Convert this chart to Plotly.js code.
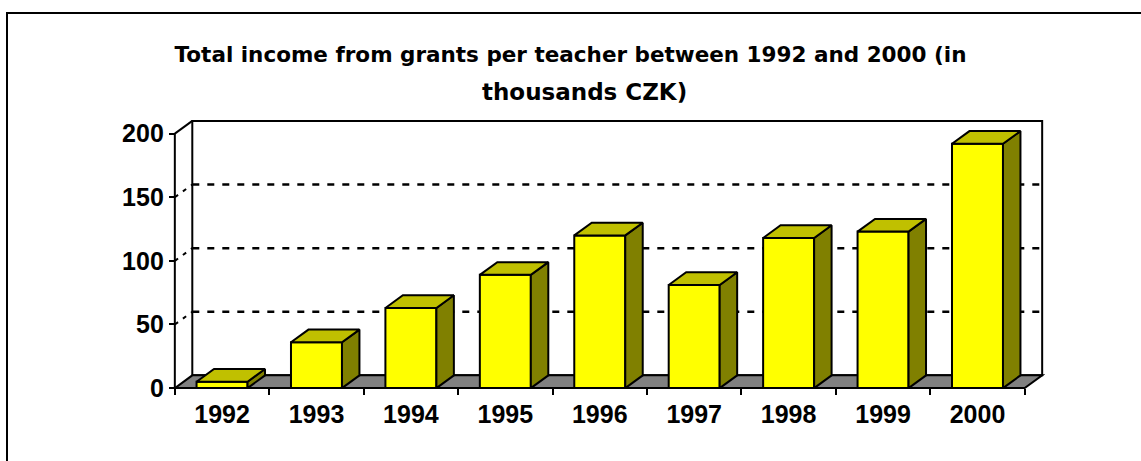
<!DOCTYPE html>
<html>
<head>
<meta charset="utf-8">
<script src="https://cdn.plot.ly/plotly-3.0.1.min.js"></script>
<style>
  html, body { margin: 0; padding: 0; background: #ffffff; }
  #chart { width: 1141px; height: 461px; }
</style>
</head>
<body>
<div id="chart"></div>
<script>
// ---- data ----
const categories = ['1992', '1993', '1994', '1995', '1996', '1997', '1998', '1999', '2000'];
const values = [5, 36, 63, 89, 120, 81, 118, 123, 192];
const yTickValues = [0, 50, 100, 150, 200];
const titleLine1 = 'Total income from grants per teacher between 1992 and 2000 (in';
const titleLine2 = 'thousands CZK)';

// ---- geometry / style ----
const W = 1141, H = 461;
const M = { l: 172, r: 96, t: 119, b: 71 };
const PW = W - M.l - M.r, PH = H - M.t - M.b;
const X_RANGE = [-0.53, 8.715];
const Y_RANGE = [-1.5, 211.5];
const DX = 0.185;   // depth offset along category axis
const DY = 10;      // depth offset along value axis
const BAR_W = 0.54;
const Y_MAX = 200;
const nCat = categories.length;
const xLeft = -0.5, xRight = nCat - 0.5;

const FRONT = '#FFFF00', TOP = '#C0C000', SIDE = '#808000', FLOOR = '#808080';
const tickFont = { family: 'Liberation Sans, Arial, sans-serif', size: 25, color: '#000', weight: 700 };
const titleFont = { family: 'DejaVu Sans, sans-serif', size: 21.5, color: '#000', weight: 700 };
const title2Font = { family: 'DejaVu Sans, sans-serif', size: 23, color: '#000', weight: 700 };

const px2paperX = px => (px - M.l) / PW;
const px2paperY = py => (H - M.b - py) / PH;

// indices
const xs = categories.map((c, i) => i);

// top faces and side faces built from data values
const topX = [], topY = [], sideX = [], sideY = [];
xs.forEach((x, i) => {
  const v = values[i];
  const a = x - BAR_W / 2, b = x + BAR_W / 2;
  topX.push(a, b, b + DX, a + DX, a, null);
  topY.push(v, v, v + DY, v + DY, v, null);
  sideX.push(b, b, b + DX, b + DX, b, null);
  sideY.push(0, v, v + DY, DY, 0, null);
});

const traces = [
  {
    type: 'bar', x: xs, y: values, width: BAR_W,
    marker: { color: FRONT, line: { color: '#000', width: 2 } },
    hoverinfo: 'skip', showlegend: false
  },
  {
    type: 'scatter', mode: 'lines', x: sideX, y: sideY, fill: 'toself',
    fillcolor: SIDE, line: { color: '#000', width: 2 }, connectgaps: false,
    hoverinfo: 'skip', showlegend: false
  },
  {
    type: 'scatter', mode: 'lines', x: topX, y: topY, fill: 'toself',
    fillcolor: TOP, line: { color: '#000', width: 2 }, connectgaps: false,
    hoverinfo: 'skip', showlegend: false
  }
];

const shapes = [];
// back wall
shapes.push({ type: 'rect', xref: 'x', yref: 'y', layer: 'below',
  x0: xLeft + DX, x1: xRight + DX, y0: DY, y1: Y_MAX + DY,
  line: { color: '#000', width: 2 }, fillcolor: 'rgba(0,0,0,0)' });
// gridlines on back wall and side wall
yTickValues.filter(v => v > 0 && v < Y_MAX).forEach(v => {
  shapes.push({ type: 'line', xref: 'x', yref: 'y', layer: 'below',
    x0: xLeft + DX, x1: xRight + DX, y0: v + DY, y1: v + DY,
    line: { color: '#000', width: 2.5, dash: '7px,8px' } });
  shapes.push({ type: 'line', xref: 'x', yref: 'y', layer: 'below',
    x0: xLeft, x1: xLeft + DX, y0: v, y1: v + DY,
    line: { color: '#000', width: 2, dash: '4px,6px' } });
});
// floor
shapes.push({ type: 'path', xref: 'x', yref: 'y', layer: 'below',
  path: `M ${xLeft},0 L ${xRight},0 L ${xRight + DX},${DY} L ${xLeft + DX},${DY} Z`,
  fillcolor: FLOOR, line: { color: '#000', width: 2 } });
// left wall top edge
shapes.push({ type: 'line', xref: 'x', yref: 'y', layer: 'below',
  x0: xLeft, x1: xLeft + DX, y0: Y_MAX, y1: Y_MAX + DY,
  line: { color: '#000', width: 2 } });
// front value axis line
shapes.push({ type: 'line', xref: 'x', yref: 'y', layer: 'above',
  x0: xLeft, x1: xLeft, y0: 0, y1: Y_MAX,
  line: { color: '#000', width: 2 } });
// outer chart frame
shapes.push({ type: 'path', xref: 'paper', yref: 'paper', layer: 'above',
  path: `M ${px2paperX(7)},${px2paperY(475)} L ${px2paperX(7)},${px2paperY(13)} L ${px2paperX(1150)},${px2paperY(13)}`,
  line: { color: '#000', width: 2 } });

const boundaries = categories.map((c, i) => i - 0.5).concat([nCat - 0.5]);

const layout = {
  width: W, height: H,
  margin: M,
  paper_bgcolor: '#ffffff', plot_bgcolor: 'rgba(0,0,0,0)',
  showlegend: false,
  hovermode: false,
  title: {
    text: titleLine1,
    font: titleFont,
    x: 0.5, xref: 'container', xanchor: 'center',
    y: 1 - 54 / H, yref: 'container', yanchor: 'middle'
  },
  annotations: [{
    text: titleLine2, showarrow: false,
    xref: 'paper', yref: 'paper',
    x: px2paperX(584), xanchor: 'center',
    y: px2paperY(92), yanchor: 'middle',
    font: title2Font
  }],
  xaxis: {
    range: X_RANGE, fixedrange: true,
    anchor: 'free', position: (0 - Y_RANGE[0]) / (Y_RANGE[1] - Y_RANGE[0]),
    tickmode: 'array', tickvals: xs, ticktext: categories,
    ticks: '', ticklen: 6, ticklabelstandoff: 9,
    minor: { tickmode: 'array', tickvals: boundaries, ticks: 'outside', ticklen: 6, tickwidth: 2, tickcolor: '#000' },
    showgrid: false, zeroline: false, showline: false,
    tickfont: tickFont
  },
  yaxis: {
    range: Y_RANGE, fixedrange: true,
    anchor: 'free', position: (xLeft - X_RANGE[0]) / (X_RANGE[1] - X_RANGE[0]),
    tickmode: 'array', tickvals: yTickValues, ticktext: yTickValues.map(String),
    ticks: 'outside', ticklen: 6, tickwidth: 2, tickcolor: '#000',
    showgrid: false, zeroline: false, showline: false,
    tickfont: tickFont
  },
  shapes: shapes
};

Plotly.newPlot('chart', traces, layout, { displayModeBar: false, responsive: false });
</script>
</body>
</html>
